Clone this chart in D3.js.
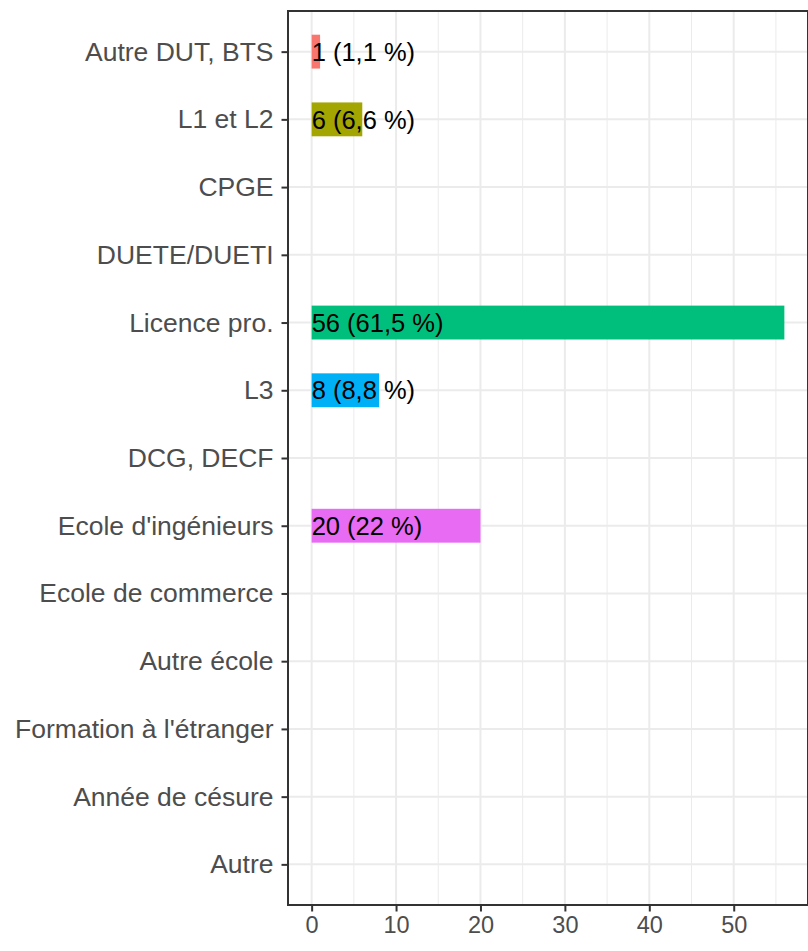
<!DOCTYPE html>
<html>
<head>
<meta charset="utf-8">
<script src="https://cdn.jsdelivr.net/npm/d3@7"></script>
<style>
  body { margin: 0; background: #fff; }
  svg { display: block; font-family: "Liberation Sans", Arial, sans-serif; }
</style>
</head>
<body>
<svg width="808" height="951"></svg>
<script>
// categories top to bottom
var categories = ["Autre DUT, BTS", "L1 et L2", "CPGE", "DUETE/DUETI", "Licence pro.", "L3",
  "DCG, DECF", "Ecole d'ingénieurs", "Ecole de commerce", "Autre école",
  "Formation à l'étranger", "Année de césure", "Autre"];
var counts = [1, 6, 0, 0, 56, 8, 0, 20, 0, 0, 0, 0, 0];
var labels = ["1 (1,1 %)", "6 (6,6 %)", "", "", "56 (61,5 %)", "8 (8,8 %)", "", "20 (22 %)", "", "", "", "", ""];
var barColors = ["#F8766D", "#A3A500", null, null, "#00BF7D", "#00B0F6", null, "#E76BF3", null, null, null, null, null];
var xTicks = [0, 10, 20, 30, 40, 50];
var xMinor = [5, 15, 25, 35, 45, 55];

var svg = d3.select("svg");
var margin = {top: 11, right: 0, bottom: 46, left: 288};
var width = 808 - margin.left - margin.right,
    height = 951 - margin.top - margin.bottom;

var data = categories.map(function(c, i) {
  return {cat: c, n: counts[i], label: labels[i], color: barColors[i]};
});

var maxN = d3.max(counts);
var x = d3.scaleLinear()
  .domain([-0.05 * maxN, maxN * 1.05])
  .range([0, width]);

// discrete scale with ggplot-like 0.6 expansion
var y = d3.scalePoint()
  .domain(categories)
  .range([0, height])
  .padding(0.6);
var step = y.step();

var g = svg.append("g")
  .attr("transform", "translate(" + margin.left + "," + margin.top + ")");

// minor grid
g.selectAll(".minor")
  .data(xMinor)
  .enter().append("line")
  .attr("x1", function(d) { return x(d); })
  .attr("x2", function(d) { return x(d); })
  .attr("y1", 0).attr("y2", height)
  .attr("stroke", "#EBEBEB").attr("stroke-width", 1);

// major grid
g.selectAll(".vmajor")
  .data(xTicks)
  .enter().append("line")
  .attr("x1", function(d) { return x(d); })
  .attr("x2", function(d) { return x(d); })
  .attr("y1", 0).attr("y2", height)
  .attr("stroke", "#EBEBEB").attr("stroke-width", 2);

g.selectAll(".hmajor")
  .data(categories)
  .enter().append("line")
  .attr("x1", 0).attr("x2", width)
  .attr("y1", function(d) { return y(d); })
  .attr("y2", function(d) { return y(d); })
  .attr("stroke", "#EBEBEB").attr("stroke-width", 2);

// bars
var barH = step * 0.5;
g.selectAll(".bar")
  .data(data.filter(function(d) { return d.n > 0; }))
  .enter().append("rect")
  .attr("class", "bar")
  .attr("x", x(0))
  .attr("y", function(d) { return y(d.cat) - barH / 2; })
  .attr("width", function(d) { return x(d.n) - x(0); })
  .attr("height", barH)
  .attr("fill", function(d) { return d.color; });

// value labels
g.selectAll(".lbl")
  .data(data.filter(function(d) { return d.n > 0; }))
  .enter().append("text")
  .attr("x", x(0))
  .attr("y", function(d) { return y(d.cat); })
  .attr("dy", "0.36em")
  .attr("font-size", "25.5px")
  .attr("fill", "#000")
  .text(function(d) { return d.label; });

// panel border
g.append("rect")
  .attr("x", 0).attr("y", 0)
  .attr("width", width).attr("height", height)
  .attr("fill", "none")
  .attr("stroke", "#333333")
  .attr("stroke-width", 2);

// axes
var xAxis = g.append("g")
  .attr("transform", "translate(0," + height + ")")
  .call(d3.axisBottom(x).tickValues(xTicks).tickSize(6.5).tickPadding(5));
var yAxis = g.append("g")
  .call(d3.axisLeft(y).tickSize(6.5).tickPadding(8));

[xAxis, yAxis].forEach(function(a) {
  a.select(".domain").remove();
  a.selectAll(".tick line").attr("stroke", "#333333").attr("stroke-width", 2);
  a.selectAll(".tick text")
    .attr("fill", "#4D4D4D")
    .attr("font-family", "Liberation Sans, Arial, sans-serif");
});
xAxis.selectAll(".tick text").attr("font-size", "23.5px");
yAxis.selectAll(".tick text").attr("font-size", "26.5px");
</script>
</body>
</html>
